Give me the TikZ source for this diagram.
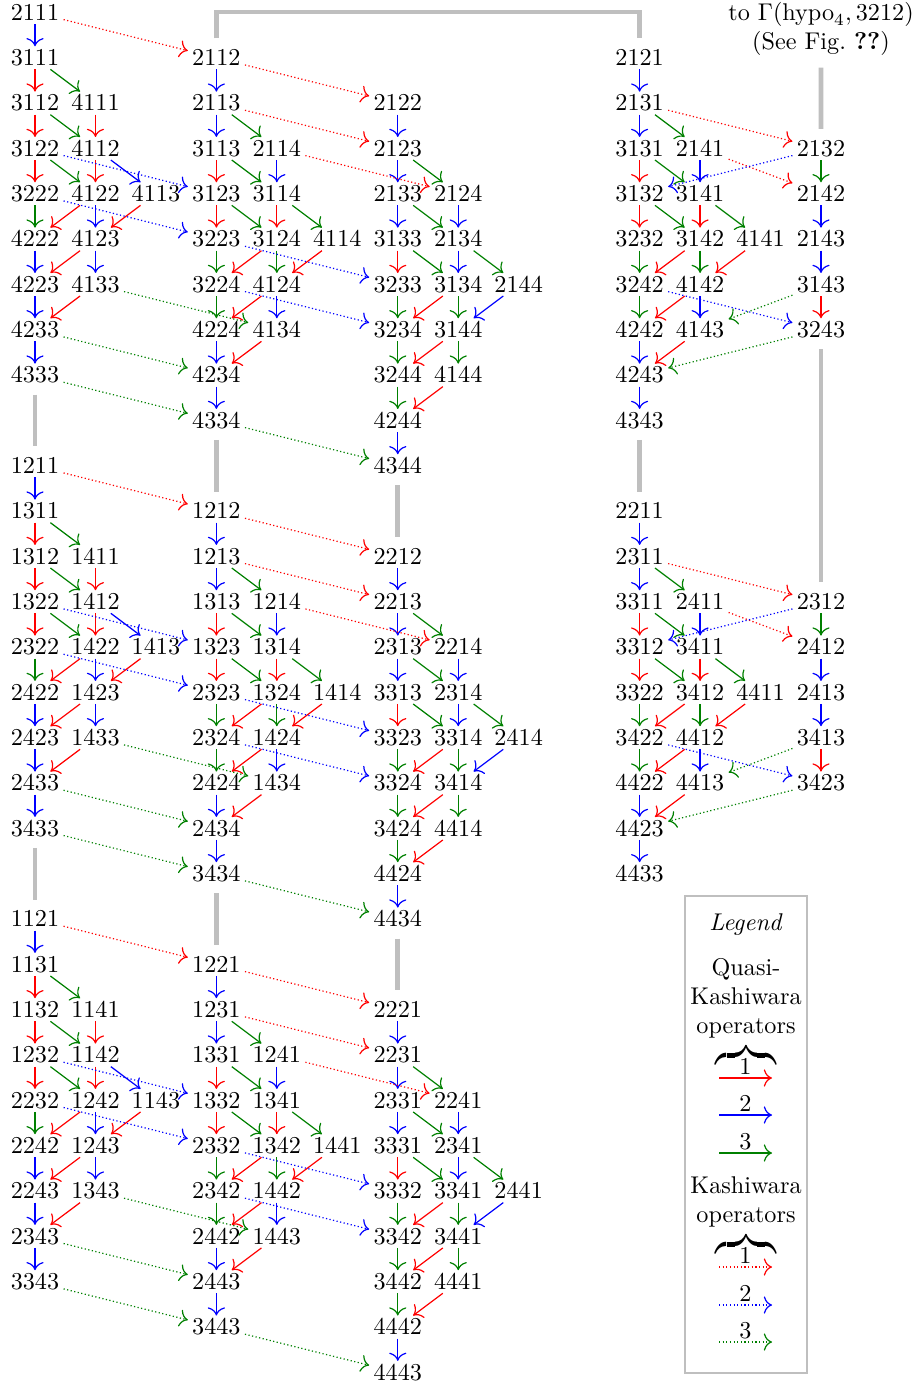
\documentclass[tikz,border=0pt]{standalone}
\usetikzlibrary{arrows.meta}
\tikzset{
  nd/.style={inner xsep=1.6pt, inner ysep=1.35pt, text height=6.44pt, text depth=0pt},
  ar/.style={-{Computer Modern Rightarrow[scale=1.25]}, line width=0.5pt},
  qr/.style={ar, red},
  qb/.style={ar, blue},
  qg/.style={ar, green!50!black},
  kr/.style={qr, densely dotted},
  kb/.style={qb, densely dotted},
  kg/.style={qg, densely dotted},
  gl/.style={line width=2pt, lightgray, shorten <=3.3pt, shorten >=3.3pt},
  numlab/.style={midway, above, inner sep=1pt, text=black},
  bracenode/.style={inner sep=0pt, anchor=south},
}
% #1 name prefix, #2 column, #3 base row, #4 first index, #5 labels
\newcommand\colnodes[5]{\foreach \xl [count=\xi from #4] in {#5} {\node[nd] (#1\xi) at ({35+60.46*#2},{12.5+45.33*(#3+\xi)}) {\xl};}}
\newcommand\edges[2]{\foreach \xa/\xb/\xs in #2 {\draw[\xs] (#1\xa) -- (#1\xb);}}
\newcommand\cross[3]{\foreach \xa/\xb/\xs in #3 {\draw[\xs] (#1\xa) -- (#2\xb);}}
\newcommand\bigbrace{\scalebox{1}[1.5]{\hbox to 25pt{\downbracefill}}}
\def\EA{a0/a1/qb, a1/a2/qr, a1/b2/qg, a2/a3/qr, a2/b3/qg, b2/b3/qr, a3/a4/qr, a3/b4/qg, b3/b4/qr, b3/c4/qb, a4/a5/qg, b4/a5/qr, b4/b5/qb, c4/b5/qr, a5/a6/qb, b5/a6/qr, b5/b6/qb, a6/a7/qb, b6/a7/qr, a7/a8/qb}
\def\EB{a0/a1/qb, a1/a2/qb, a1/b2/qg, a2/a3/qr, a2/b3/qg, b2/b3/qb, a3/a4/qr, a3/b4/qg, b3/b4/qr, b3/c4/qg, a4/a5/qg, b4/a5/qr, b4/b5/qg, c4/b5/qr, a5/a6/qg, b5/a6/qr, b5/b6/qb, a6/a7/qb, b6/a7/qr, a7/a8/qb}
\def\EC{a0/a1/qb, a1/a2/qb, a1/b2/qg, a2/a3/qb, a2/b3/qg, b2/b3/qb, a3/a4/qr, a3/b4/qg, b3/b4/qb, b3/c4/qg, a4/a5/qg, b4/a5/qr, b4/b5/qg, c4/b5/qb, a5/a6/qg, b5/a6/qr, b5/b6/qg, a6/a7/qg, b6/a7/qr, a7/a8/qb}
\def\ED{d2/d3/qg, d3/d4/qb, d4/d5/qb, d5/d6/qr, a1/d2/kr, b2/d3/kr, d2/a3/kb, a5/d6/kb, d5/b6/kg, d6/a7/kg}
\def\XAB{a0/a0/kr, a3/a3/kb, a4/a4/kb, b6/b6/kg, a7/a7/kg, a8/a8/kg}
\def\XBC{a0/a0/kr, a1/a1/kr, b2/b2/kr, a4/a4/kb, a5/a5/kb, a8/a8/kg}
\begin{document}
\begin{tikzpicture}[x=0.4132pt,y=-0.4132pt]
\useasboundingbox (0,0) rectangle (919,1385);
% ---------- block 1
\colnodes{n1Aa}{0}{0}{0}{2111,3111,3112,3122,3222,4222,4223,4233,4333}
\colnodes{n1Ab}{1}{0}{2}{4111,4112,4122,4123,4133}
\colnodes{n1Ac}{2}{0}{4}{4113}
\colnodes{n1Ba}{3}{1}{0}{2112,2113,3113,3123,3223,3224,4224,4234,4334}
\colnodes{n1Bb}{4}{1}{2}{2114,3114,3124,4124,4134}
\colnodes{n1Bc}{5}{1}{4}{4114}
\colnodes{n1Ca}{6}{2}{0}{2122,2123,2133,3133,3233,3234,3244,4244,4344}
\colnodes{n1Cb}{7}{2}{2}{2124,2134,3134,3144,4144}
\colnodes{n1Cc}{8}{2}{4}{2144}
\colnodes{n1Da}{10}{1}{0}{2121,2131,3131,3132,3232,3242,4242,4243,4343}
\colnodes{n1Db}{11}{1}{2}{2141,3141,3142,4142,4143}
\colnodes{n1Dc}{12}{1}{4}{4141}
\colnodes{n1Dd}{13}{1}{2}{2132,2142,2143,3143,3243}
% ---------- block 2
\colnodes{n2Aa}{0}{10}{0}{1211,1311,1312,1322,2322,2422,2423,2433,3433}
\colnodes{n2Ab}{1}{10}{2}{1411,1412,1422,1423,1433}
\colnodes{n2Ac}{2}{10}{4}{1413}
\colnodes{n2Ba}{3}{11}{0}{1212,1213,1313,1323,2323,2324,2424,2434,3434}
\colnodes{n2Bb}{4}{11}{2}{1214,1314,1324,1424,1434}
\colnodes{n2Bc}{5}{11}{4}{1414}
\colnodes{n2Ca}{6}{12}{0}{2212,2213,2313,3313,3323,3324,3424,4424,4434}
\colnodes{n2Cb}{7}{12}{2}{2214,2314,3314,3414,4414}
\colnodes{n2Cc}{8}{12}{4}{2414}
\colnodes{n2Da}{10}{11}{0}{2211,2311,3311,3312,3322,3422,4422,4423,4433}
\colnodes{n2Db}{11}{11}{2}{2411,3411,3412,4412,4413}
\colnodes{n2Dc}{12}{11}{4}{4411}
\colnodes{n2Dd}{13}{11}{2}{2312,2412,2413,3413,3423}
% ---------- block 3
\colnodes{n3Aa}{0}{20}{0}{1121,1131,1132,1232,2232,2242,2243,2343,3343}
\colnodes{n3Ab}{1}{20}{2}{1141,1142,1242,1243,1343}
\colnodes{n3Ac}{2}{20}{4}{1143}
\colnodes{n3Ba}{3}{21}{0}{1221,1231,1331,1332,2332,2342,2442,2443,3443}
\colnodes{n3Bb}{4}{21}{2}{1241,1341,1342,1442,1443}
\colnodes{n3Bc}{5}{21}{4}{1441}
\colnodes{n3Ca}{6}{22}{0}{2221,2231,2331,3331,3332,3342,3442,4442,4443}
\colnodes{n3Cb}{7}{22}{2}{2241,2341,3341,3441,4441}
\colnodes{n3Cc}{8}{22}{4}{2441}
% ---------- edges
\edges{n1A}{\EA}\edges{n1B}{\EB}\edges{n1C}{\EC}\edges{n1D}{\EB}\edges{n1D}{\ED}
\edges{n2A}{\EA}\edges{n2B}{\EB}\edges{n2C}{\EC}\edges{n2D}{\EB}\edges{n2D}{\ED}
\edges{n3A}{\EA}\edges{n3B}{\EB}\edges{n3C}{\EC}
\cross{n1A}{n1B}{\XAB}\cross{n1B}{n1C}{\XBC}
\cross{n2A}{n2B}{\XAB}\cross{n2B}{n2C}{\XBC}
\cross{n3A}{n3B}{\XAB}\cross{n3B}{n3C}{\XBC}
% ---------- gray links
\node[align=center, inner sep=1.7pt] (lab) at (821,28.5) {to $\Gamma(\mathrm{hypo}_4,3212)$\\(See Fig.~\textbf{??})};
\coordinate (topbar) at (430,12);
\draw[gl] (n1Ba0.north) |- (topbar) -| (n1Da0.north);
\draw[gl] (lab) -- (n1Dd2);
\draw[gl] (n1Aa8) -- (n2Aa0);
\draw[gl] (n1Ba8) -- (n2Ba0);
\draw[gl] (n1Ca8) -- (n2Ca0);
\draw[gl] (n1Da8) -- (n2Da0);
\draw[gl] (n1Dd6) -- (n2Dd2);
\draw[gl] (n2Aa8) -- (n3Aa0);
\draw[gl] (n2Ba8) -- (n3Ba0);
\draw[gl] (n2Ca8) -- (n3Ca0);
% ---------- legend
\draw[lightgray, line width=0.5pt] (685,896) rectangle (807,1373);
\node (lgT) at (746,924.5) {\textit{Legend}};
\node[align=center, inner sep=0pt] (lgQ) at (746,998) {Quasi-\\Kashiwara\\operators};
\node[bracenode] (brQ) at (746,1058) {\bigbrace};
\coordinate (q1a) at (719,1078); \coordinate (q1b) at (772,1078);
\coordinate (q2a) at (719,1115); \coordinate (q2b) at (772,1115);
\coordinate (q3a) at (719,1153); \coordinate (q3b) at (772,1153);
\draw[qr] (q1a) -- (q1b) node[numlab] (q1l) {1};
\draw[qb] (q2a) -- (q2b) node[numlab] (q2l) {2};
\draw[qg] (q3a) -- (q3b) node[numlab] (q3l) {3};
\node[align=center, inner sep=0pt] (lgK) at (746,1201.5) {Kashiwara\\operators};
\node[bracenode] (brK) at (746,1247) {\bigbrace};
\coordinate (k1a) at (719,1267); \coordinate (k1b) at (772,1267);
\coordinate (k2a) at (719,1305); \coordinate (k2b) at (772,1305);
\coordinate (k3a) at (719,1342); \coordinate (k3b) at (772,1342);
\draw[kr] (k1a) -- (k1b) node[numlab] (k1l) {1};
\draw[kb] (k2a) -- (k2b) node[numlab] (k2l) {2};
\draw[kg] (k3a) -- (k3b) node[numlab] (k3l) {3};
\end{tikzpicture}
\end{document}
